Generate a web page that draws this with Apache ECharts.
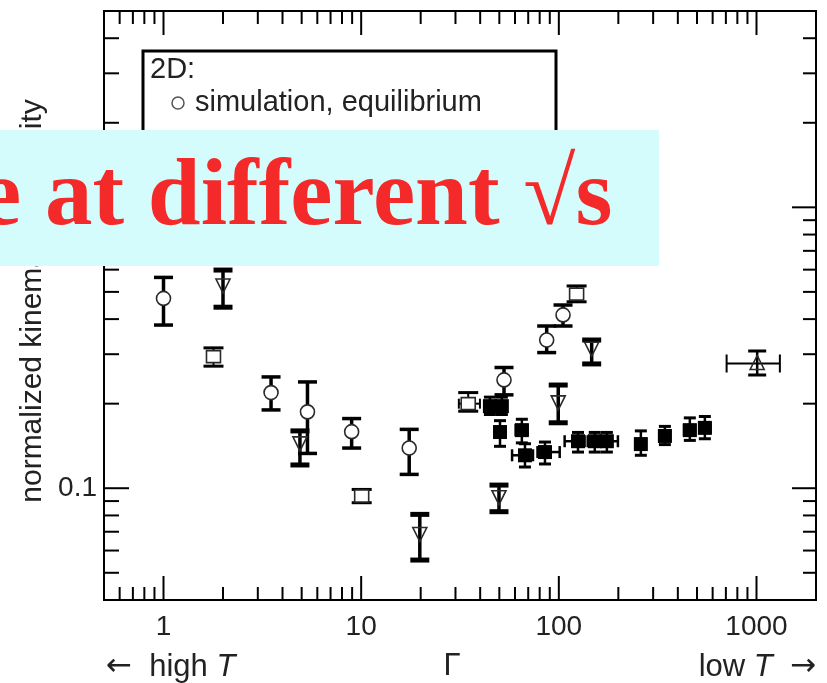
<!DOCTYPE html>
<html><head><meta charset="utf-8">
<script src="https://cdn.jsdelivr.net/npm/echarts@6/dist/echarts.min.js"></script>
<style>html,body{margin:0;padding:0;background:#fff}#c{width:827px;height:683px}</style>
</head><body><div id="c"></div>
<script>
// ---- data ----
const circlesX  = [1.0, 3.5, 5.35, 8.95, 17.5, 52.8, 86.8, 105];
const circlesY  = [0.474, 0.219, 0.187, 0.159, 0.139, 0.243, 0.337, 0.414];
const circlesLo = [0.381, 0.190, 0.133, 0.139, 0.112, 0.215, 0.304, 0.378];
const circlesHi = [0.563, 0.249, 0.239, 0.177, 0.162, 0.269, 0.378, 0.449];

const triX  = [2.0, 4.9, 19.8, 49.8, 99.3, 146.6];
const triY  = [0.529, 0.145, 0.069, 0.0933, 0.203, 0.315];
const triLo = [0.441, 0.121, 0.0555, 0.0825, 0.171, 0.277];
const triHi = [0.598, 0.160, 0.0807, 0.1026, 0.233, 0.337];

const sqX   = [1.79, 10.06, 34.8, 123];
const sqY   = [0.294, 0.0938, 0.200, 0.491];
const sqLo  = [0.272, 0.0888, 0.188, 0.461];
const sqHi  = [0.316, 0.0990, 0.219, 0.525];
const sqXLo = [1.79, 10.06, 31.2, 123];
const sqXHi = [1.79, 10.06, 39.9, 123];

const expX   = [44.8, 51.5, 50.4, 65.0, 67.4, 85.1, 125, 152, 175, 260, 344, 460, 548];
const expY   = [0.196, 0.196, 0.1585, 0.161, 0.131, 0.1345, 0.147, 0.147, 0.147, 0.1436, 0.1535, 0.161, 0.164];
const expYLo = [0.183, 0.183, 0.141, 0.145, 0.119, 0.122, 0.1345, 0.1345, 0.1345, 0.131, 0.143, 0.148, 0.150];
const expYHi = [0.211, 0.211, 0.174, 0.176, 0.144, 0.146, 0.158, 0.158, 0.158, 0.160, 0.166, 0.178, 0.180];
const expXLo = [42.5, 48.5, 47.5, 60.5, 58.0, 78.0, 107, 140, 162, 245, 322, 430, 515];
const expXHi = [47.5, 54.5, 53.5, 69.5, 74.0, 101, 135, 165, 199, 275, 366, 490, 585];

const upX = [1008], upY = [0.278], upLo = [0.253], upHi = [0.308], upXLo = [706], upXHi = [1313];

const xMajorTicks = [1, 10, 100, 1000];
const xMinorTicks = [0.6,0.7,0.8,0.9,2,3,4,5,6,7,8,9,20,30,40,50,60,70,80,90,200,300,400,500,600,700,800,900];
const yMajorTicks = [0.1, 1];
const yMinorTicks = [0.05,0.06,0.07,0.08,0.09,0.2,0.3,0.4,0.5,0.6,0.7,0.8,0.9,2,3,4];
const xTickLabels = ['1', '10', '100', '1000'];
const yTickLabels = ['0.1', '1'];

const legendLines = ['2D:', 'simulation, equilibrium', 'simulation, nonequilibrium [16]'];
const yTitle = 'normalized kinematic viscosity';
const overlayText = 'e at different \u221As';

// ---- helpers ----
const FONT = '"Liberation Sans", Arial, Helvetica, sans-serif';
const ARROWFONT = '"DejaVu Sans", sans-serif';
function labelFor(list) {
  return function (v) {
    for (const l of list) {
      if (Math.abs(Math.log10(v) - Math.log10(parseFloat(l))) < 1e-6) return l;
    }
    return '';
  };
}
function rows(X, Y, Lo, Hi, XLo, XHi) {
  return X.map((x, i) => [x, Y[i], Lo[i], Hi[i], XLo ? XLo[i] : x, XHi ? XHi[i] : x]);
}
const STROKE = '#2a2a2a';
function makeErr(k) {
  return function (params, api) {
    const x = api.value(0), y = api.value(1), lo = api.value(2), hi = api.value(3);
    const xl = api.value(4), xh = api.value(5);
    const c = api.coord([x, y]);
    const pL = api.coord([x, lo]), pH = api.coord([x, hi]);
    const ch = [];
    ch.push({type: 'line', shape: {x1: c[0], y1: pL[1], x2: c[0], y2: pH[1]}, style: {stroke: '#000', lineWidth: k.stem}});
    ch.push({type: 'rect', shape: {x: c[0] - k.capW / 2, y: pL[1] - k.capH / 2, width: k.capW, height: k.capH}, style: {fill: '#000'}});
    ch.push({type: 'rect', shape: {x: c[0] - k.capW / 2, y: pH[1] - k.capH / 2, width: k.capW, height: k.capH}, style: {fill: '#000'}});
    if (Math.abs(xh - xl) > 1e-9) {
      const a = api.coord([xl, y]), b = api.coord([xh, y]);
      ch.push({type: 'line', shape: {x1: a[0], y1: c[1], x2: b[0], y2: c[1]}, style: {stroke: '#000', lineWidth: k.hStem}});
      ch.push({type: 'line', shape: {x1: a[0], y1: c[1] - k.xCap / 2, x2: a[0], y2: c[1] + k.xCap / 2}, style: {stroke: '#000', lineWidth: k.hStem}});
      ch.push({type: 'line', shape: {x1: b[0], y1: c[1] - k.xCap / 2, x2: b[0], y2: c[1] + k.xCap / 2}, style: {stroke: '#000', lineWidth: k.hStem}});
    }
    const cx = c[0], cy = c[1];
    if (k.marker === 'circle') {
      ch.push({type: 'circle', shape: {cx, cy, r: 7}, style: {fill: '#fff', stroke: STROKE, lineWidth: 1.6}});
    } else if (k.marker === 'down') {
      ch.push({type: 'polygon', shape: {points: [[cx - 7, cy - 6], [cx + 7, cy - 6], [cx, cy + 8]]}, style: {fill: 'none', stroke: STROKE, lineWidth: 1.6}});
    } else if (k.marker === 'up') {
      ch.push({type: 'polygon', shape: {points: [[cx, cy - 8], [cx - 7, cy + 6], [cx + 7, cy + 6]]}, style: {fill: 'none', stroke: STROKE, lineWidth: 1.6}});
    } else if (k.marker === 'sq') {
      ch.push({type: 'rect', shape: {x: cx - 7, y: cy - 6, width: 14, height: 12}, style: {fill: '#fff', stroke: STROKE, lineWidth: 1.6}});
    } else if (k.marker === 'fsq') {
      ch.push({type: 'rect', shape: {x: cx - 7, y: cy - 7, width: 14, height: 14}, style: {fill: '#000'}});
    }
    return {type: 'group', children: ch};
  };
}
const tickData = []
  .concat(xMajorTicks.map(v => [v, 1, 0, 1]))
  .concat(xMinorTicks.map(v => [v, 1, 0, 0]))
  .concat(yMajorTicks.map(v => [1, v, 1, 1]))
  .concat(yMinorTicks.map(v => [1, v, 1, 0]));
function tickRender(params, api) {
  const cs = params.coordSys;
  const isY = api.value(2), major = api.value(3);
  const st = {stroke: '#000', lineWidth: 2};
  if (!isY) {
    const px = api.coord([api.value(0), 1])[0];
    const L = major ? 24 : 13;
    return {type: 'group', children: [
      {type: 'line', shape: {x1: px, y1: cs.y + cs.height, x2: px, y2: cs.y + cs.height - L}, style: st},
      {type: 'line', shape: {x1: px, y1: cs.y, x2: px, y2: cs.y + L}, style: st}
    ]};
  } else {
    const py = api.coord([1, api.value(1)])[1];
    const L = major ? 25 : 15;
    const R = major ? 24 : 13;
    return {type: 'group', children: [
      {type: 'line', shape: {x1: cs.x, y1: py, x2: cs.x + L, y2: py}, style: st},
      {type: 'line', shape: {x1: cs.x + cs.width, y1: py, x2: cs.x + cs.width - R, y2: py}, style: st}
    ]};
  }
}

const chart = echarts.init(document.getElementById('c'), null, {renderer: 'canvas'});
const txt = (o) => Object.assign({fill: '#222', fontFamily: FONT, fontSize: 29}, o);
const richStyle = {
  a: {fontFamily: FONT, fontSize: 31, fill: '#222'},
  b: {fontFamily: FONT, fontSize: 31, fontStyle: 'italic', fill: '#222'},
  r: {fontFamily: ARROWFONT, fontSize: 31, fill: '#222'}
};
chart.setOption({
  animation: false,
  backgroundColor: '#fff',
  grid: {left: 104, right: 11, top: 11, bottom: 83, show: true, borderColor: '#000', borderWidth: 2, backgroundColor: 'transparent'},
  xAxis: {
    type: 'log', logBase: 10, min: 0.5, max: 2000,
    axisLine: {show: true, lineStyle: {color: '#000', width: 2}},
    axisTick: {show: false}, splitLine: {show: false}, minorTick: {show: false},
    axisLabel: {formatter: labelFor(xTickLabels), color: '#222', fontFamily: FONT, fontSize: 28, margin: 13, showMinLabel: true, showMaxLabel: true}
  },
  yAxis: {
    type: 'log', logBase: 10, min: 0.04, max: 5,
    axisLine: {show: true, lineStyle: {color: '#000', width: 2}},
    axisTick: {show: false}, splitLine: {show: false}, minorTick: {show: false},
    axisLabel: {formatter: labelFor(yTickLabels), color: '#222', fontFamily: FONT, fontSize: 28, margin: 7, padding: [9, 0, 0, 0]}
  },
  series: [
    {type: 'custom', name: 'ticks', renderItem: tickRender, data: tickData, encode: {x: 0, y: 1}, silent: true, z: 5},
    {type: 'custom', name: 'experiment', renderItem: makeErr({marker: 'fsq', stem: 2.5, capW: 12, capH: 3, hStem: 2.5, xCap: 12}),
      data: rows(expX, expY, expYLo, expYHi, expXLo, expXHi), encode: {x: 0, y: 1}},
    {type: 'custom', name: 'squares', renderItem: makeErr({marker: 'sq', stem: 2, capW: 20, capH: 3, hStem: 2, xCap: 10}),
      data: rows(sqX, sqY, sqLo, sqHi, sqXLo, sqXHi), encode: {x: 0, y: 1}},
    {type: 'custom', name: 'simulation, equilibrium', renderItem: makeErr({marker: 'circle', stem: 3.5, capW: 19, capH: 3.5, hStem: 2, xCap: 10}),
      data: rows(circlesX, circlesY, circlesLo, circlesHi), encode: {x: 0, y: 1}},
    {type: 'custom', name: 'simulation, nonequilibrium', renderItem: makeErr({marker: 'down', stem: 3.5, capW: 19, capH: 5, hStem: 2, xCap: 10}),
      data: rows(triX, triY, triLo, triHi), encode: {x: 0, y: 1}},
    {type: 'custom', name: 'up', renderItem: makeErr({marker: 'up', stem: 2.5, capW: 18, capH: 3, hStem: 2, xCap: 18}),
      data: rows(upX, upY, upLo, upHi, upXLo, upXHi), encode: {x: 0, y: 1}}
  ],
  graphic: [
    {type: 'rect', z: 10, shape: {x: 143, y: 51, width: 413, height: 170}, style: {fill: '#fff', stroke: '#000', lineWidth: 3}},
    {type: 'text', z: 11, x: 150, y: 70, style: txt({text: legendLines[0], verticalAlign: 'middle'})},
    {type: 'circle', z: 11, shape: {cx: 178, cy: 103, r: 6}, style: {fill: '#fff', stroke: '#555', lineWidth: 1.5}},
    {type: 'text', z: 11, x: 195, y: 103, style: txt({text: legendLines[1], verticalAlign: 'middle'})},
    {type: 'polygon', z: 11, shape: {points: [[171, 136], [185, 136], [178, 149]]}, style: {fill: 'none', stroke: '#555', lineWidth: 1.5}},
    {type: 'text', z: 11, x: 195, y: 144, style: txt({text: legendLines[2], verticalAlign: 'middle'})},
    {type: 'text', z: 11, x: 33, y: 301, rotation: Math.PI / 2, style: txt({text: yTitle, fontSize: 30, align: 'center', verticalAlign: 'middle'})},
    {type: 'text', z: 11, x: 106, y: 667, style: {text: '{r|\u2190}{a|  high }{b|T}', verticalAlign: 'middle', rich: richStyle}},
    {type: 'text', z: 11, x: 452, y: 666, style: txt({text: '\u0393', fontSize: 31, align: 'center', verticalAlign: 'middle'})},
    {type: 'text', z: 11, x: 816, y: 667, style: {text: '{a|low }{b|T}{a|  }{r|\u2192}', align: 'right', verticalAlign: 'middle', rich: richStyle}},
    {type: 'rect', z: 50, shape: {x: 0, y: 130, width: 659, height: 136}, style: {fill: '#d4fcfc'}},
    {type: 'text', z: 51, x: -21, y: 199, style: {text: overlayText, fill: '#f42a2a', fontFamily: '"Liberation Serif", "Times New Roman", serif', fontWeight: 'bold', fontSize: 95, verticalAlign: 'middle'}}
  ]
});
</script></body></html>
